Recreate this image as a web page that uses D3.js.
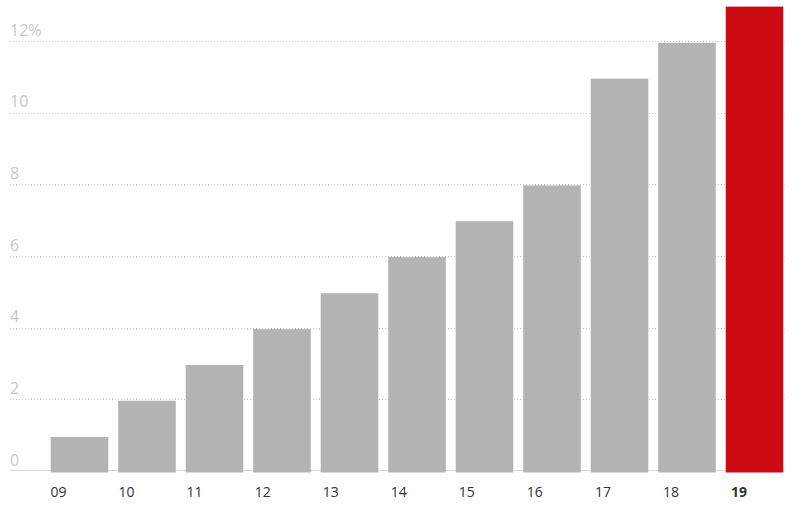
<!DOCTYPE html>
<html>
<head>
<meta charset="utf-8">
<script src="https://cdn.jsdelivr.net/npm/d3@7"></script>
<style>
  html, body { margin: 0; padding: 0; background: #fff; }
  svg { display: block; font-family: "Open Sans", "Noto Sans", sans-serif; }
</style>
</head>
<body>
<svg id="chart" width="802" height="514"></svg>
<script>
const categories = ["09", "10", "11", "12", "13", "14", "15", "16", "17", "18", "19"];
const values = [0.95, 1.96, 2.96, 3.96, 4.96, 5.97, 6.97, 7.97, 10.95, 11.95, 12.96];
const highlight = ["19"];
const yTicks = [0, 2, 4, 6, 8, 10, 12];
const yTickLabels = ["0", "2", "4", "6", "8", "10", "12%"];

const svg = d3.select("#chart");
const gridLeft = 10, gridRight = 785;

const x = d3.scaleBand()
  .domain(categories)
  .range([50.7, 783.3])
  .paddingInner(0.147)
  .paddingOuter(0);

// category labels sit on their own slightly narrower grid (as in the original)
const xLabel = d3.scalePoint()
  .domain(categories)
  .range([58.5, 739]);

const y = d3.scaleLinear()
  .domain([0, 12])
  .range([471, 41]);

// gridlines
svg.append("g")
  .selectAll("line")
  .data(yTicks.filter(d => d !== 0))
  .join("line")
  .attr("x1", gridLeft)
  .attr("x2", gridRight)
  .attr("y1", d => Math.round(y(d)) + 0.5)
  .attr("y2", d => Math.round(y(d)) + 0.5)
  .attr("stroke", "#c8c8c8")
  .attr("stroke-width", 1)
  .attr("stroke-dasharray", "1,2");

// baseline
svg.append("line")
  .attr("x1", gridLeft)
  .attr("x2", gridRight)
  .attr("y1", Math.round(y(0)) - 0.5)
  .attr("y2", Math.round(y(0)) - 0.5)
  .attr("stroke", "#d9d9d9")
  .attr("stroke-width", 1.2);

// y labels
svg.append("g")
  .selectAll("text")
  .data(yTicks)
  .join("text")
  .attr("x", gridLeft)
  .attr("y", d => y(d) - 5.5)
  .attr("fill", "#c8c8c8")
  .attr("font-size", 16)
  .text((d, i) => yTickLabels[i]);

// bars
svg.append("g")
  .selectAll("rect")
  .data(categories)
  .join("rect")
  .attr("x", d => x(d))
  .attr("width", x.bandwidth())
  .attr("y", (d, i) => y(values[i]))
  .attr("height", (d, i) => y(0) - y(values[i]) + 1.5)
  .attr("fill", d => highlight.includes(d) ? "#cc0a12" : "#b3b3b3");

// x labels
svg.append("g")
  .selectAll("text")
  .data(categories)
  .join("text")
  .attr("x", d => xLabel(d))
  .attr("y", 497)
  .attr("text-anchor", "middle")
  .attr("fill", "#333")
  .attr("font-size", 14)
  .attr("font-weight", d => highlight.includes(d) ? 700 : 400)
  .text(d => d);
</script>
</body>
</html>
